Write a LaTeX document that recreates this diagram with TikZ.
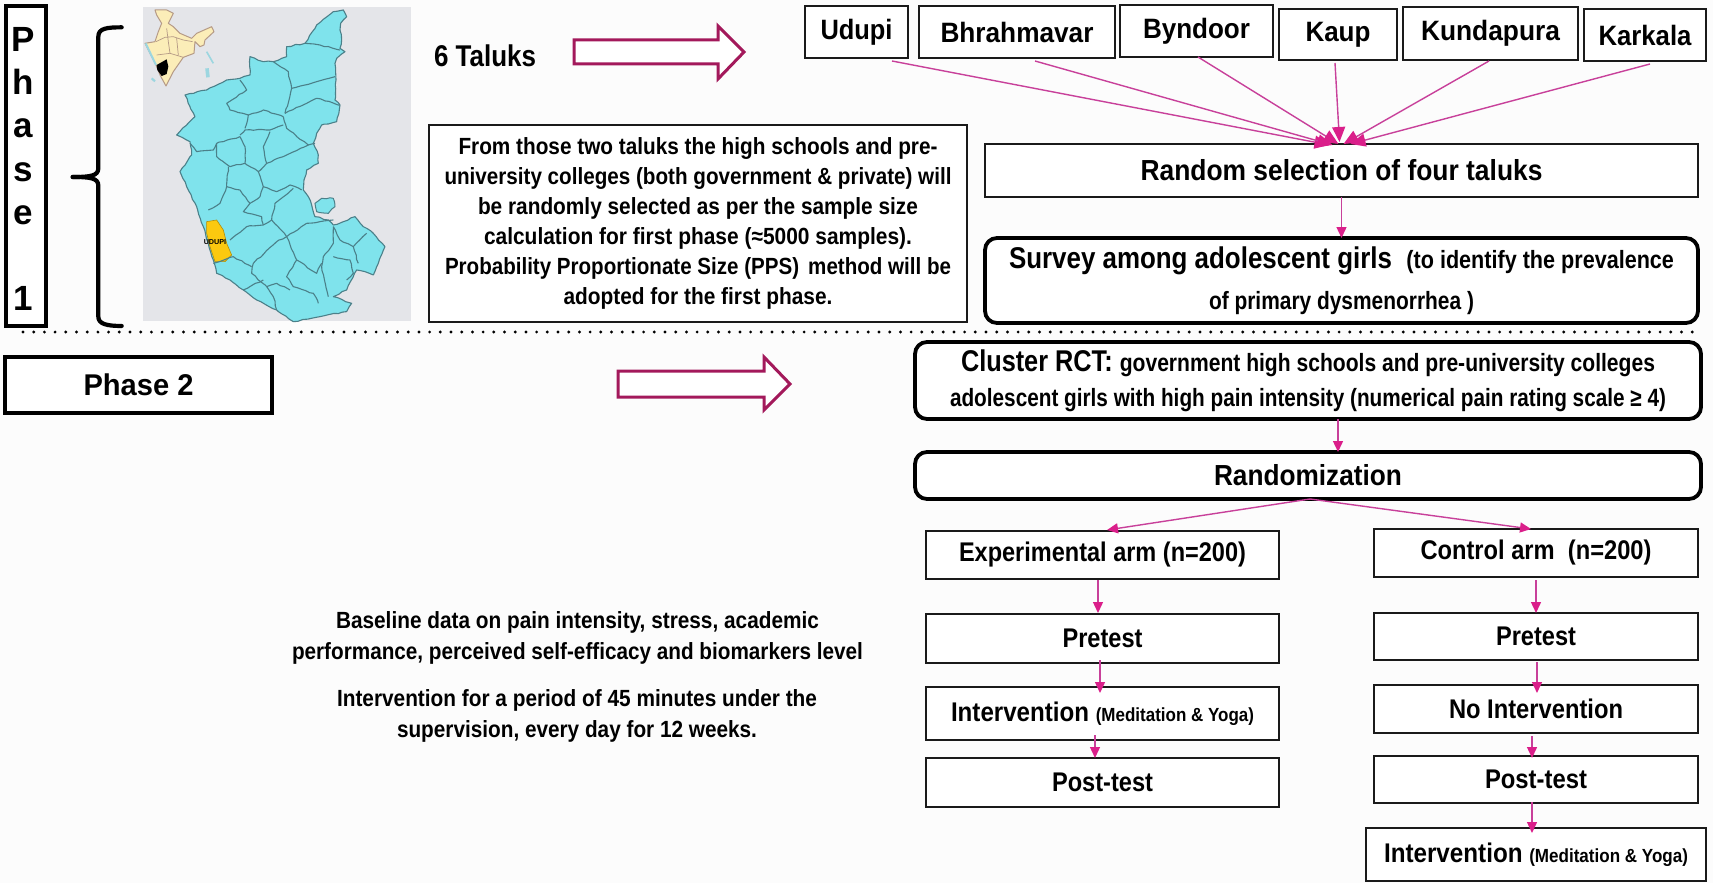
\documentclass[tikz,border=0pt]{standalone}
\usepackage{graphicx}
\usepackage{fontspec}
\setmainfont{Liberation Sans}
\usetikzlibrary{arrows.meta,decorations.pathmorphing}
\newsavebox\mybox
\newcommand\fw[2]{\sbox\mybox{#2}\pgfmathsetmacro\myr{#1*0.5/\the\wd\mybox}\scalebox{\myr}[1]{\usebox\mybox}}
\newcommand\fs[1]{\fontsize{#1}{#1}\selectfont\bfseries}
\newcommand\pbox[7]{\node[#6,minimum width={(#4-#2)*0.5pt},minimum height={(#5-#3)*0.5pt}] (#1) at ({(#2+#4)/2},{(#3+#5)/2}) {#7};}
\definecolor{boxline}{HTML}{1A1A1A}
\definecolor{conncol}{HTML}{C8409A}
\definecolor{tipcol}{HTML}{DA1F8A}
\definecolor{blockcol}{HTML}{A3195B}
\definecolor{mapbg}{HTML}{E4E5E9}
\definecolor{mapfill}{HTML}{7FE3EC}
\definecolor{mapline}{HTML}{4B8089}
\definecolor{indfill}{HTML}{FBEDB8}
\definecolor{indline}{HTML}{B59A86}
\definecolor{isle}{HTML}{9CD6E0}
\definecolor{yel}{HTML}{FBC90F}
\pgfmathsetseed{7}
\tikzset{
 thinbox/.style={draw=boxline,line width=0.8pt,fill=white,inner sep=0pt,outer sep=0pt,align=center},
 thickbox/.style={draw=black,line width=1.9pt,fill=white,inner sep=0pt,outer sep=0pt,align=center},
 roundbox/.style={thickbox,rounded corners=6pt},
 plain/.style={inner sep=0pt,outer sep=0pt,align=center},
 conn/.style={draw=conncol,line width=0.7pt,-{Triangle[length=5.5pt,width=5pt,color=tipcol]}},
 connbig/.style={draw=conncol,line width=0.7pt,-{Triangle[length=7.5pt,width=6.5pt,color=tipcol]}},
 block/.style={draw=blockcol,line width=1.5pt,fill=white,line join=miter},
 brace/.style={draw=black,line width=2.1pt,line cap=round,line join=round},
 rough/.style={decorate,decoration={random steps,segment length=2.2pt,amplitude=0.3pt}},
 dist/.style={rough,draw=mapline,line width=0.55pt,line join=round},
}
\begin{document}
\begin{tikzpicture}[x=0.5pt,y=-0.5pt]
\useasboundingbox (0,0) rectangle (1713,883);
\fill[white!99!black] (0,0) rectangle (1713,883);
% Map
\fill[mapbg] (143,7) rectangle (411,321);
\begin{scope}[x=0.5pt/3,y=-0.5pt/3]
\filldraw[rough,fill=mapfill,draw=mapline,line width=0.55pt,line join=round]
 (1030,30)--(1040,50)--(1022,70)--(1020,90)--(1025,120)--(1020,145)--(1035,155)--(1010,175)--(1005,190)--(1008,240)--(1005,300)--(1020,315)--(1010,365)--(985,372)--(965,375)--(950,400)--(940,430)--(955,465)--(955,490)--(920,510)--(912,540)--(910,570)--(925,590)--(935,615)--(945,650)--(985,660)--(1000,675)--(1030,665)--(1065,650)--(1090,680)--(1120,700)--(1155,740)--(1135,790)--(1120,825)--(1095,815)--(1070,810)--(1040,870)--(1000,890)--(1055,910)--(1040,935)--(960,950)--(880,965)--(830,930)--(770,900)--(730,870)--(690,840)--(650,820)--(640,780)--(625,730)--(610,680)--(590,620)--(560,560)--(540,515)--(575,465)--(570,425)--(530,405)--(585,350)--(570,320)--(555,285)--(620,270)--(680,240)--(720,235)--(750,225)--(750,170)--(790,185)--(820,185)--(860,170)--(860,140)--(915,130)--(950,75)--(1000,35)--cycle;
\filldraw[rough,fill=mapfill,draw=mapline,line width=0.5pt] (945,610)--(965,595)--(1000,595)--(1005,620)--(985,640)--(950,635)--cycle;
\filldraw[fill=yel,draw=yel!70!black,line width=0.3pt] (620,665)--(650,660)--(670,690)--(680,730)--(695,765)--(675,785)--(645,785)--(630,740)--(620,700)--cycle;
\draw[dist] (915,130)--(960,135)--(1020,150);
\draw[dist] (820,185)--(865,215)--(875,265)--(855,340);
\draw[dist] (875,265)--(950,245)--(1005,230);
\draw[dist] (855,340)--(920,310)--(950,295)--(1020,315);
\draw[dist] (720,240)--(740,270)--(680,310)--(690,330)--(745,345)--(790,330)--(850,350);
\draw[dist] (745,345)--(735,385);
\draw[dist] (850,350)--(860,385)--(925,435)--(945,430);
\draw[dist] (720,405)--(735,390)--(810,390)--(850,375);
\draw[dist] (720,410)--(650,430)--(640,450)--(590,455)--(570,430);
\draw[dist] (720,410)--(735,440)--(735,490)--(690,500)--(650,470)--(650,430);
\draw[dist] (810,395)--(790,440)--(800,490)--(775,515)--(735,490);
\draw[dist] (925,435)--(860,465)--(800,490);
\draw[dist] (775,515)--(790,560)--(830,575)--(870,555)--(905,570);
\draw[dist] (685,500)--(680,560)--(660,610)--(625,630);
\draw[dist] (680,560)--(720,570)--(750,610)--(780,590)--(790,560);
\draw[dist] (750,610)--(730,635)--(785,650)--(790,675);
\draw[dist] (880,565)--(825,610)--(815,660)--(860,710);
\draw[dist] (815,660)--(790,675)--(740,680)--(690,720);
\draw[dist] (860,710)--(920,670)--(1000,660);
\draw[dist] (860,710)--(830,725)--(760,790)--(755,820)--(800,860);
\draw[dist] (860,710)--(890,780)--(860,830)--(880,860)--(940,880)--(955,910);
\draw[dist] (890,780)--(950,820)--(965,790);
\draw[dist] (1000,680)--(1000,730)--(970,770)--(965,800)--(985,890);
\draw[dist] (1000,680)--(1020,720)--(1060,740)--(1100,700);
\draw[dist] (1060,740)--(1075,790);
\draw[dist] (1000,770)--(1050,780)--(1060,820)--(1040,840);
\draw[dist] (640,790)--(700,770)--(755,800);
\draw[dist] (790,840)--(730,870);
\draw[dist] (800,860)--(830,850)--(870,870);
\draw[dist] (830,930)--(820,890)--(800,860);
\node[plain,font=\fontsize{3.6}{4}\selectfont\bfseries] (udupilabel) at (645,727) {UDUPI};
% India inset
\filldraw[fill=indfill,draw=indline,line width=0.5pt,line join=round]
 (465,30)--(500,30)--(520,40)--(505,70)--(520,80)--(540,100)--(575,115)--(590,100)--(635,80)--(642,95)--(615,120)--(612,135)--(600,140)--(585,125)--(582,160)--(550,172)--(520,215)--(498,258)--(480,225)--(468,195)--(435,130)--(465,125)--(475,95)--(485,70)--(470,45)--cycle;
\draw[indline,line width=0.35pt] (468,125)--(495,112)--(520,110)--(550,120)--(578,125) (500,85)--(505,125)--(510,160)--(550,172) (470,165)--(510,160) (530,115)--(535,165);
\fill[black] (470,195)--(500,178)--(505,200)--(500,222)--(485,228)--(472,210)--cycle;
\draw[isle,line width=0.8pt] (620,155)--(640,190);
\draw[isle,line width=1.8pt] (621,205)--(624,232);
\draw[isle,line width=1.1pt] (455,235)--(465,244);
\draw[isle,line width=1pt] (437,130)--(468,195);
% Brace
\draw[brace] (365,82)..controls (320,82) and (295,85)..(295,110)--(295,505)..controls (295,528) and (270,531)..(218,531);
\draw[brace] (218,531)..controls (270,531) and (295,534)..(295,557)--(295,950)..controls (295,972) and (320,978)..(365,978);
\end{scope}
% Phase boxes
\pbox{phaseone}{6}{6}{46}{326}{thickbox}{};
\node[plain,font=\fontsize{17.5}{21.65}\selectfont\bfseries] (phaseonetext) at (23,169) {P\\h\\a\\s\\e\\ \\1};
\pbox{phasetwo}{5}{357}{272}{413}{thickbox}{\fw{110}{\fs{15}Phase 2}};
% Dotted line
\coordinate (dotl) at (23,332);
\coordinate (dotr) at (1698,332);
\draw[black,line width=1.6pt,line cap=round,dash pattern=on 0pt off 5.35pt] (dotl)--(dotr);
% Block arrows
\draw[block] (574,40)--(718,40)--(718,26)--(744,52)--(718,79)--(718,64)--(574,64)--cycle;
\draw[block] (618,371)--(764,371)--(764,357)--(790,384)--(764,410)--(764,397)--(618,397)--cycle;
% Free text
\node[plain] (sixtaluks) at (485,56) {\fw{102}{\fs{15}6 Taluks}};
\node[plain] (base1) at (577.5,622) {\fw{483}{\fs{11.7}Baseline data on pain intensity, stress, academic}};
\node[plain] (base2) at (577.5,653) {\fw{571}{\fs{11.7}performance, perceived self-efficacy and biomarkers level}};
\node[plain] (inter1) at (577,700) {\fw{480}{\fs{11.7}Intervention for a period of 45 minutes under the}};
\node[plain] (inter2) at (577,731) {\fw{360}{\fs{11.7}supervision, every day for 12 weeks.}};
% Text box
\pbox{info}{429}{125}{967}{322}{thinbox,font=\fontsize{10}{15}\selectfont}{%
\fw{479}{\fs{11.7}From those two taluks the high schools and pre-}\\
\fw{507}{\fs{11.7}university colleges (both government \& private) will}\\
\fw{440}{\fs{11.7}be randomly selected as per the sample size}\\
\fw{428}{\fs{11.7}calculation for first phase (≈5000 samples).}\\
\fw{506}{\fs{11.7}Probability Proportionate Size (PPS)\, method will be}\\
\fw{269}{\fs{11.7}adopted for the first phase.}};
% Taluks
\pbox{udupi}{805}{6}{908}{58}{thinbox}{\fw{72}{\fs{14}Udupi}};
\pbox{bhrah}{919}{6}{1115}{58}{thinbox}{\fw{153}{\fs{14}Bhrahmavar}};
\pbox{byndoor}{1120}{5}{1273}{57}{thinbox}{\fw{107}{\fs{14}Byndoor}};
\pbox{kaup}{1279}{9}{1397}{60}{thinbox}{\fw{65}{\fs{14}Kaup}};
\pbox{kundapura}{1403}{7}{1578}{60}{thinbox}{\fw{139}{\fs{14}Kundapura}};
\pbox{karkala}{1584}{9}{1706}{61}{thinbox}{\fw{93}{\fs{14}Karkala}};
\pbox{random}{985}{144}{1698}{197}{thinbox}{\fw{402}{\fs{14.5}Random selection of four taluks}};
\pbox{survey}{985}{238}{1698}{323}{roundbox,font=\fontsize{10}{20.5}\selectfont}{%
\fw{665}{\fs{15}Survey among adolescent girls\ \ {\fs{12.5}(to identify the prevalence}}\\
\fw{265}{\fs{12.5}of primary dysmenorrhea )}};
\pbox{cluster}{915}{342}{1701}{419}{roundbox,font=\fontsize{10}{17.5}\selectfont}{%
\fw{694}{\fs{15}Cluster RCT:\ {\fs{12.5}government high schools and pre-university colleges}}\\
\fw{716}{\fs{12.5}adolescent girls with high pain intensity (numerical pain rating scale ≥ 4)}};
\pbox{randomization}{915}{452}{1701}{499}{roundbox}{\fw{188}{\fs{14.5}Randomization}};
% Arms
\pbox{exp}{926}{531}{1279}{579}{thinbox}{\fw{287}{\fs{13.5}Experimental arm (n=200)}};
\pbox{lpre}{926}{614}{1279}{663}{thinbox}{\fw{80}{\fs{13.5}Pretest}};
\pbox{lint}{926}{687}{1279}{740}{thinbox}{\fw{303}{\fs{13.5}Intervention {\fs{9.5}(Meditation \& Yoga)}}};
\pbox{lpost}{926}{758}{1279}{807}{thinbox}{\fw{101}{\fs{13.5}Post-test}};
\pbox{ctrl}{1374}{529}{1698}{577}{thinbox}{\fw{231}{\fs{13.5}Control arm\ \ (n=200)}};
\pbox{rpre}{1374}{613}{1698}{660}{thinbox}{\fw{80}{\fs{13.5}Pretest}};
\pbox{rno}{1374}{685}{1698}{733}{thinbox}{\fw{174}{\fs{13.5}No Intervention}};
\pbox{rpost}{1374}{756}{1698}{803}{thinbox}{\fw{102}{\fs{13.5}Post-test}};
\pbox{rint}{1366}{828}{1706}{881}{thinbox}{\fw{304}{\fs{13.5}Intervention {\fs{9.5}(Meditation \& Yoga)}}};
% Connectors
\draw[connbig] ([shift={(35.5,3)}]udupi.south) -- ([shift={(-12,1)}]random.north);
\draw[connbig] ([shift={(18,3)}]bhrah.south) -- ([shift={(-9,1)}]random.north);
\draw[connbig] ([shift={(1.5,0)}]byndoor.south) -- ([shift={(-3,0)}]random.north);
\draw[connbig] ([shift={(-3,3)}]kaup.south) -- ([shift={(-2,-2)}]random.north);
\draw[connbig] ([shift={(-1.5,1)}]kundapura.south) -- ([shift={(2,0)}]random.north);
\draw[connbig] ([shift={(5,3)}]karkala.south) -- ([shift={(9,0)}]random.north);
\draw[conn] (random.south) -- (survey.north);
\draw[conn] ([shift={(30,0)}]cluster.south) -- ([shift={(30,0)}]randomization.north);
\draw[conn] ([shift={(2,0)}]randomization.south) -- ([shift={(4.5,-1)}]exp.north);
\draw[conn] ([shift={(2,0)}]randomization.south) -- ([shift={(-5,0)}]ctrl.north);
\draw[conn] ([shift={(-4.5,1)}]exp.south) -- ([shift={(-4.5,-1)}]lpre.north);
\draw[conn] ([shift={(-2.5,-3)}]lpre.south) -- ([shift={(-2.5,6)}]lint.north);
\draw[conn] ([shift={(-7.5,-5)}]lint.south) -- ([shift={(-7.5,0)}]lpost.north);
\draw[conn] ([shift={(0,3)}]ctrl.south) -- (rpre.north);
\draw[conn] ([shift={(1,2)}]rpre.south) -- ([shift={(1,8)}]rno.north);
\draw[conn] ([shift={(-4,3)}]rno.south) -- ([shift={(-4,2)}]rpost.north);
\draw[conn] ([shift={(-4,-1)}]rpost.south) -- ([shift={(-4,5)}]rint.north);
\end{tikzpicture}
\end{document}
